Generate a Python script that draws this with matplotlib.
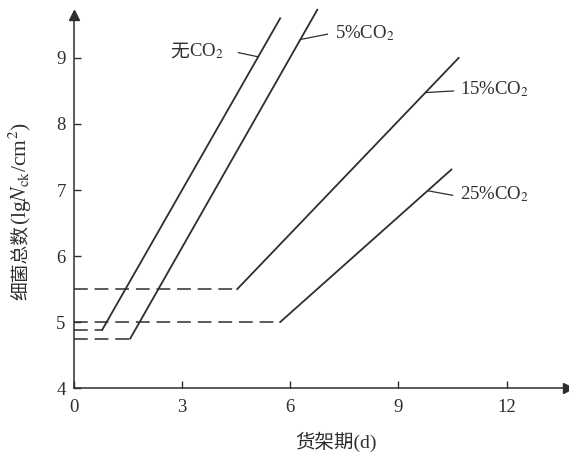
import matplotlib
matplotlib.use("Agg")
import matplotlib.pyplot as plt

plt.rcParams['mathtext.fontset'] = 'stix'
plt.rcParams['font.family'] = ['Liberation Serif', 'Noto Sans CJK SC']

# Data: (lag end day, lag level) then growth to end point
labels = ["无CO$_2$", "5%CO$_2$", "15%CO$_2$", "25%CO$_2$"]
lag_end_x = [0.78, 1.56, 4.53, 5.72]
lag_level = [4.88, 4.75, 5.5, 5.0]
end_x = [5.72, 6.75, 10.67, 10.47]
end_y = [9.6, 9.73, 9.0, 7.31]

xticks = [0, 3, 6, 9, 12]
yticks = [4, 5, 6, 7, 8, 9]

col = '#2e2e2e'
fig = plt.figure(figsize=(5.69, 4.55), dpi=100)
ax = fig.add_axes([0.130, 0.147, 0.868, 0.820])
ax.set_xlim(0, 13.7)
ax.set_ylim(4, 9.65)

for lx, ly, ex, ey in zip(lag_end_x, lag_level, end_x, end_y):
    ax.plot([0, lx], [ly, ly], color=col, lw=1.1, dashes=(9, 4.5), clip_on=False)
    ax.plot([lx, ex], [ly, ey], color=col, lw=1.3, clip_on=False)

# leaders and labels
def on_line(i, x):
    return lag_level[i] + (end_y[i] - lag_level[i]) / (end_x[i] - lag_end_x[i]) * (x - lag_end_x[i])

leader = [(5.11, 4.56, 9.08), (6.28, 7.03, 9.36), (9.75, 10.53, 8.50), (9.81, 10.5, 6.92)]
for i, (xa, xb, yb) in enumerate(leader):
    ax.plot([xa, xb], [on_line(i, xa), yb], color=col, lw=0.9, clip_on=False)

fs = 13.5
# 无CO2: split Chinese and math parts
t0 = ax.text(4.14, 9.1, "CO$_2$", ha='right', va='center', fontsize=fs, color=col,
             family='Liberation Serif')
ax.annotate("无", xy=(0, 0.5), xycoords=t0, xytext=(0, 0), textcoords='offset points',
            ha='right', va='center', fontsize=fs, color=col, family='Noto Sans CJK SC')
ax.text(7.25, 9.38, labels[1], ha='left', va='center', fontsize=fs, color=col, family='Liberation Serif')
ax.text(10.72, 8.52, labels[2], ha='left', va='center', fontsize=fs, color=col, family='Liberation Serif')
ax.text(10.72, 6.94, labels[3], ha='left', va='center', fontsize=fs, color=col, family='Liberation Serif')

ax.set_xticks(xticks)
ax.set_yticks(yticks)
ax.tick_params(direction='in', length=5, width=1, colors=col, labelsize=13.5)
ax.tick_params(axis='x', pad=8)
ax.tick_params(axis='y', pad=6)
for s in ['top', 'right']:
    ax.spines[s].set_visible(False)
for s in ['left', 'bottom']:
    ax.spines[s].set_color(col)
    ax.spines[s].set_linewidth(1.1)
ax.plot(1, 0, marker='>', color=col, ms=7, transform=ax.transAxes, clip_on=False)
ax.plot(0, 1, marker='^', color=col, ms=7, transform=ax.transAxes, clip_on=False)

ax.text(0.53, -0.144, "货架期(d)", transform=ax.transAxes, ha='center', va='center',
        fontsize=14, color=col, family=['Liberation Serif', 'Noto Sans CJK SC'])

# y label split into two rotated parts
y1 = fig.text(0.036, 0.341, "细菌总数", rotation=90, ha='center', va='bottom',
              fontsize=13.5, color=col, family='Noto Sans CJK SC')
ax.annotate("(lg$N_{\\mathrm{ck}}$/cm$^2$)", xy=(0.5, 1.0), xycoords=y1, xytext=(0, 0),
            textcoords='offset points', rotation=90, ha='center', va='bottom',
            fontsize=15.5, color=col, family='Liberation Serif', annotation_clip=False)

fig.savefig("out.png", dpi=100, facecolor='white')
